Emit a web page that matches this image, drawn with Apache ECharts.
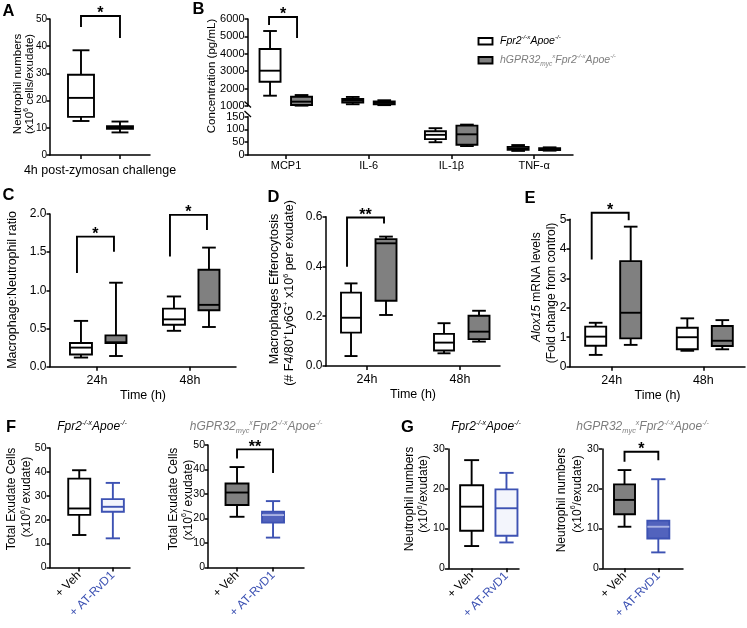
<!DOCTYPE html>
<html><head><meta charset="utf-8">
<script src="https://cdn.jsdelivr.net/npm/echarts@6/dist/echarts.min.js"></script>
<style>html,body{margin:0;padding:0;background:#fff}#c{width:747px;height:628px}</style>
</head><body><div id="c"></div>
<script>
const FONT = '"Liberation Sans", Arial, Helvetica, sans-serif';

// ---------------- data (box = [min, Q1, median, Q3, max]) ----------------
// Panel A
const aGroups = ['Fpr2-/-xApoe-/-', 'hGPR32myc xFpr2-/-xApoe-/-'];
const aBoxes = [[12.5, 14.0, 21.0, 29.5, 38.5], [8.3, 9.6, 10.1, 10.6, 12.3]];
const aSig = [[0, 1, 47.1, 51.1, 43.0]];       // [leftCat, rightCat, leftEnd, top, rightEnd]
const aSigLabels = ['*'];
// Panel B
const bCategories = ['MCP1', 'IL-6', 'IL-1β', 'TNF-α'];
const bWhite = [[1592, 2397, 3029, 4276, 5310], [1100, 1200, 1300, 1400, 1520], [50, 62, 79, 93, 105], [16, 20, 26, 32, 39]];
const bGrey = [[1020, 1060, 1250, 1535, 1630], [1050, 1100, 1180, 1260, 1330], [35, 40, 81, 115, 119], [17, 19, 23, 27, 30]];
const bSig = [[0, 0, 5655, 6115, 4908]];
const bSigLabels = ['*'];
// Panel C
const timeCategories = ['24h', '48h'];
const cWhite = [[0.12, 0.16, 0.25, 0.31, 0.60], [0.47, 0.55, 0.62, 0.76, 0.92]];
const cGrey = [[0.14, 0.31, 0.32, 0.41, 1.10], [0.52, 0.74, 0.81, 1.27, 1.56]];
const cSig = [[0, 0, 1.228, 1.704, 1.507], [1, 1, 1.442, 1.988, 1.79]];
const cSigLabels = ['*', '*'];
// Panel D
const dWhite = [[0.040, 0.134, 0.194, 0.295, 0.332], [0.051, 0.062, 0.094, 0.129, 0.172]];
const dGrey = [[0.205, 0.262, 0.493, 0.510, 0.520], [0.098, 0.108, 0.138, 0.202, 0.222]];
const dSig = [[0, 0, 0.399, 0.597, 0.573]];
const dSigLabels = ['**'];
// Panel E
const eWhite = [[0.40, 0.71, 1.02, 1.36, 1.49], [0.54, 0.59, 1.00, 1.32, 1.64]];
const eGrey = [[0.74, 0.96, 1.83, 3.58, 4.75], [0.59, 0.70, 0.88, 1.38, 1.58]];
const eSig = [[0, 0, 3.64, 5.22, 4.97]];
const eSigLabels = ['*'];
// Panel F
const treatments = ['+ Veh', '+ AT-RvD1'];
const fLeft = [[13.6, 22.0, 24.7, 37.2, 40.7], [12.2, 23.3, 25.4, 28.6, 35.4]];
const fRight = [[20.7, 25.5, 30.6, 34.3, 41.0], [12.2, 18.3, 21.4, 22.8, 27.1]];
const fSig = [[0, 1, 44.5, 48.2, 38.6]];
const fSigLabels = ['**'];
// Panel G
const gLeft = [[5.6, 9.45, 15.5, 20.9, 27.2], [6.5, 8.2, 15.1, 19.85, 24.0]];
const gRight = [[10.45, 13.6, 17.2, 21.1, 24.7], [4.0, 7.5, 10.45, 12.0, 22.4]];
const gSig = [[0, 1, 26.8, 29.3, 27.2]];
const gSigLabels = ['*'];

// ---------------- styles ----------------
const S_WHITE = {fill: '#ffffff', stroke: '#000000'};
const S_GREY = {fill: '#808080', stroke: '#000000'};
const S_BLUE_O = {fill: '#f3f5fc', stroke: '#3d52b3'};
const S_BLUE_F = {fill: '#5263bd', stroke: '#3d52b3', median: '#aab3e4'};
const LW = 1.9, AXW = 1.5;

function boxItem(off, w, st) {
  return function (params, api) {
    const x = api.value(0);
    const p = [1, 2, 3, 4, 5].map(function (i) { return api.coord([x, api.value(i)]); });
    const cx = p[0][0] + off;
    const yMin = p[0][1], yQ1 = p[1][1], yMed = p[2][1], yQ3 = p[3][1], yMax = p[4][1];
    const cap = w * 0.65;
    const ls = {stroke: st.stroke, lineWidth: LW, fill: 'none'};
    return {type: 'group', children: [
      {type: 'line', shape: {x1: cx, y1: yQ3, x2: cx, y2: yMax}, style: ls},
      {type: 'line', shape: {x1: cx, y1: yQ1, x2: cx, y2: yMin}, style: ls},
      {type: 'line', shape: {x1: cx - cap / 2, y1: yMax, x2: cx + cap / 2, y2: yMax}, style: ls},
      {type: 'line', shape: {x1: cx - cap / 2, y1: yMin, x2: cx + cap / 2, y2: yMin}, style: ls},
      {type: 'rect', shape: {x: cx - w / 2, y: yQ3, width: w, height: Math.max(yQ1 - yQ3, 0.5)},
        style: {fill: st.fill, stroke: st.stroke, lineWidth: LW}},
      {type: 'line', shape: {x1: cx - w / 2, y1: yMed, x2: cx + w / 2, y2: yMed},
        style: {stroke: st.median || st.stroke, lineWidth: LW, fill: 'none'}}
    ]};
  };
}
function sigItem(offL, offR, labels) {
  return function (params, api) {
    const pl = api.coord([api.value(0), api.value(2)]);
    const pt = api.coord([api.value(0), api.value(3)]);
    const pr = api.coord([api.value(1), api.value(4)]);
    const xl = pl[0] + offL, xr = pr[0] + offR, yt = pt[1];
    return {type: 'group', children: [
      {type: 'polyline', shape: {points: [[xl, pl[1]], [xl, yt], [xr, yt], [xr, pr[1]]]},
        style: {stroke: '#000', lineWidth: LW, fill: 'none'}},
      {type: 'text', style: {text: labels[params.dataIndex], x: (xl + xr) / 2, y: yt - 2, fill: '#000',
        font: 'bold 16px ' + FONT, textAlign: 'center', textVerticalAlign: 'middle', align: 'center', verticalAlign: 'middle'}}
    ]};
  };
}
function boxSeries(ai, data, off, w, st) {
  return {type: 'custom', xAxisIndex: ai, yAxisIndex: ai, data: data, renderItem: boxItem(off, w, st),
    encode: {x: 0, y: [1, 2, 3, 4, 5]}, silent: true, clip: false, z: 3};
}
function sigSeries(ai, data, offL, offR, labels) {
  return {type: 'custom', xAxisIndex: ai, yAxisIndex: ai, data: data, renderItem: sigItem(offL, offR, labels),
    encode: {x: 0, y: [2, 3, 4]}, silent: true, clip: false, z: 4};
}
function idx(arr, start) { return arr.map(function (b, i) { return [i + (start || 0)].concat(b); }); }

function grid(l, t, w, h) { return {left: l, top: t, width: w, height: h, containLabel: false, outerBoundsMode: 'none'}; }
function xAx(gi, min, max, cats, o) {
  o = o || {};
  const vals = cats.map(function (c, i) { return i; });
  return {
    type: 'value', gridIndex: gi, min: min, max: max, show: o.show !== false,
    axisLine: {show: true, onZero: false, lineStyle: {color: '#000', width: AXW}},
    axisTick: {show: true, customValues: vals, length: 4, inside: false, lineStyle: {color: '#000', width: AXW}},
    axisLabel: {show: !!o.labels, customValues: vals, interval: 0,
      formatter: o.fmt || function (v) { return cats[Math.round(v)]; },
      fontSize: o.fs || 12, fontFamily: FONT, color: '#000', margin: o.margin || 6, rotate: o.rotate || 0, rich: o.rich},
    splitLine: {show: false},
    name: o.name || '', nameLocation: 'middle', nameGap: o.nameGap || 20,
    nameTextStyle: {fontSize: o.nameFs || 12.5, fontFamily: FONT, color: '#000'}
  };
}
const plain = function (v) { return String(v); };
function yAx(gi, min, max, interval, fs, fmt, margin) {
  return {type: 'value', gridIndex: gi, min: min, max: max, interval: interval,
    axisLine: {show: true, onZero: false, lineStyle: {color: '#000', width: AXW}},
    axisTick: {show: true, length: 3.5, lineStyle: {color: '#000', width: AXW}},
    axisLabel: {fontSize: fs, fontFamily: FONT, color: '#000', margin: margin || 3.5, formatter: fmt || plain},
    splitLine: {show: false}};
}

const trtRich = {
  k: {color: '#000', fontSize: 12, fontFamily: FONT},
  b: {color: '#3d52b3', fontSize: 12, fontFamily: FONT}
};
const trtFmt = function (v) { const i = Math.round(v); return '{' + ['k', 'b'][i] + '|' + treatments[i] + '}'; };
const fx1 = function (v) { return v.toFixed(1); };

// ---------------- text helpers ----------------
function richStyles(size, color) {
  const c = color || '#000';
  return {
    n: {font: size + 'px ' + FONT, fill: c, lineHeight: size + 3},
    i: {font: 'italic ' + size + 'px ' + FONT, fill: c, lineHeight: size + 3},
    s: {font: (size * 0.58).toFixed(1) + 'px ' + FONT, fill: c, lineHeight: size * 0.5, verticalAlign: 'top'},
    si: {font: 'italic ' + (size * 0.58).toFixed(1) + 'px ' + FONT, fill: c, lineHeight: size * 0.5, verticalAlign: 'top'},
    bi: {font: 'italic ' + (size * 0.62).toFixed(1) + 'px ' + FONT, fill: c, lineHeight: size * 0.6, verticalAlign: 'bottom'}
  };
}
function txt(x, y, text, size, o) {
  o = o || {};
  return {type: 'text', x: x, y: y, rotation: o.rot || 0, silent: true, z: 10,
    style: {text: text, rich: richStyles(size, o.color), font: (o.bold ? 'bold ' : '') + size + 'px ' + FONT,
      fill: o.color || '#000', textAlign: o.align || 'center', align: o.align || 'center',
      textVerticalAlign: 'middle', verticalAlign: 'middle'}};
}
function vtxt(x, y, text, size, o) { o = o || {}; o.rot = Math.PI / 2; return txt(x, y, text, size, o); }

const titleA = '{i|Fpr2}{si|-/-x}{i|Apoe}{si|-/-}';
const titleB = '{i|hGPR32}{bi|myc}{si|x}{i|Fpr2}{si|-/-x}{i|Apoe}{si|-/-}';
const GREYTXT = '#7d7d7d';

const graphics = [
  // panel letters
  txt(2.5, 11, 'A', 16.5, {bold: true, align: 'left'}),
  txt(192.5, 9, 'B', 16.5, {bold: true, align: 'left'}),
  txt(2.5, 195, 'C', 16.5, {bold: true, align: 'left'}),
  txt(267.5, 197.5, 'D', 16.5, {bold: true, align: 'left'}),
  txt(524.5, 198.5, 'E', 16.5, {bold: true, align: 'left'}),
  txt(6, 427.5, 'F', 16.5, {bold: true, align: 'left'}),
  txt(401, 427, 'G', 16.5, {bold: true, align: 'left'}),
  // y titles
  vtxt(18, 84, '{n|Neutrophil numbers}', 11.5),
  vtxt(30, 84, '{n|(x10}{s|6}{n| cells/exudate)}', 11.5),
  vtxt(211.7, 76, '{n|Concentration (pg/mL)}', 11.5),
  vtxt(13, 290, '{n|Macrophage:Neutrophil ratio}', 12.5),
  vtxt(275, 289, '{n|Macrophages Efferocytosis}', 12.5),
  vtxt(290, 293, '{n|(# F4/80}{s|+}{n|Ly6G}{s|+}{n| x10}{s|6}{n| per exudate)}', 12.5),
  vtxt(536.7, 287, '{i|Alox15}{n| mRNA levels}', 12),
  vtxt(551.7, 293, '{n|(Fold change from control)}', 12),
  vtxt(12, 499, '{n|Total Exudate Cells}', 12),
  vtxt(27, 497, '{n|(x10}{s|6}{n|/ exudate)}', 12),
  vtxt(173.3, 499, '{n|Total Exudate Cells}', 12),
  vtxt(188.5, 500, '{n|(x10}{s|6}{n|/ exudate)}', 12),
  vtxt(410, 499, '{n|Neutrophil numbers}', 12),
  vtxt(424, 494, '{n|(x10}{s|6}{n|/exudate)}', 12),
  vtxt(561.7, 500, '{n|Neutrophil numbers}', 12),
  vtxt(577.3, 494, '{n|(x10}{s|6}{n|/exudate)}', 12),
  // subplot titles
  txt(92, 427, titleA, 12),
  txt(256, 427, titleB, 12, {color: GREYTXT}),
  txt(486, 427, titleA, 12),
  txt(642.5, 427, titleB, 12, {color: GREYTXT}),
  // legend (panel B)
  {type: 'rect', shape: {x: 478.5, y: 38, width: 14, height: 6.5}, style: {fill: '#fff', stroke: '#000', lineWidth: 1.9}, silent: true},
  {type: 'rect', shape: {x: 478.5, y: 57, width: 14, height: 6.5}, style: {fill: '#808080', stroke: '#000', lineWidth: 1.9}, silent: true},
  txt(500, 41.5, titleA, 10.5, {align: 'left'}),
  txt(500, 60.5, titleB, 10.5, {align: 'left', color: GREYTXT}),
  // axis break marks (panel B)
  {type: 'line', shape: {x1: 244.5, y1: 101.5, x2: 251, y2: 107.5}, style: {stroke: '#000', lineWidth: 1.3}, silent: true},
  {type: 'line', shape: {x1: 244.5, y1: 111, x2: 251, y2: 117}, style: {stroke: '#000', lineWidth: 1.3}, silent: true}
];

const option = {
  animation: false,
  backgroundColor: '#fff',
  textStyle: {fontFamily: FONT},
  grid: [
    grid(50, 19, 100, 136),        // 0 A
    grid(248, 19, 325, 87),        // 1 B upper
    grid(248, 116.7, 325, 38.3),   // 2 B lower
    grid(50, 214, 186, 152.7),     // 3 C
    grid(326, 216.7, 174, 149.3),  // 4 D
    grid(570, 219.3, 175, 147.4),  // 5 E
    grid(50, 448, 80, 119.5),      // 6 F left
    grid(208, 445, 96, 122.5),     // 7 F right
    grid(448.3, 449, 70.7, 119.3), // 8 G left
    grid(602.3, 449, 80.7, 119.3)  // 9 G right
  ],
  xAxis: [
    xAx(0, -0.795, 1.77, aGroups, {name: '4h post-zymosan challenge', nameGap: 9, nameFs: 12.5}),
    xAx(1, -0.46, 3.47, bCategories, {show: false}),
    xAx(2, -0.46, 3.47, bCategories, {labels: true, fs: 11, margin: 5}),
    xAx(3, -0.505, 1.495, timeCategories, {labels: true, fs: 12.5, margin: 7, name: 'Time (h)', nameGap: 22}),
    xAx(4, -0.441, 1.43, timeCategories, {labels: true, fs: 12.5, margin: 7, name: 'Time (h)', nameGap: 22}),
    xAx(5, -0.455, 1.455, timeCategories, {labels: true, fs: 12.5, margin: 7, name: 'Time (h)', nameGap: 22}),
    xAx(6, -0.87, 1.51, treatments, {labels: true, rotate: 45, margin: 6, fmt: trtFmt, rich: trtRich}),
    xAx(7, -0.806, 1.86, treatments, {labels: true, rotate: 45, margin: 6, fmt: trtFmt, rich: trtRich}),
    xAx(8, -0.67, 1.36, treatments, {labels: true, rotate: 45, margin: 6, fmt: trtFmt, rich: trtRich}),
    xAx(9, -0.657, 1.73, treatments, {labels: true, rotate: 45, margin: 6, fmt: trtFmt, rich: trtRich})
  ],
  yAxis: [
    yAx(0, 0, 50, 10, 10, null, 3),
    yAx(1, 1000, 6000, 1000, 11),
    yAx(2, 0, 150, 50, 11),
    yAx(3, 0, 2, 0.5, 12, fx1),
    yAx(4, 0, 0.6, 0.2, 12, fx1),
    yAx(5, 0, 5, 1, 12),
    yAx(6, 0, 50, 10, 10.5),
    yAx(7, 0, 50, 10, 10.5, null, 3),
    yAx(8, 0, 30, 10, 10.5),
    yAx(9, 0, 30, 10, 10.5)
  ],
  graphic: graphics,
  series: [
    // A
    boxSeries(0, [[0].concat(aBoxes[0])], 0, 26, S_WHITE),
    boxSeries(0, [[1].concat(aBoxes[1])], 0, 26, S_GREY),
    sigSeries(0, aSig, 0, 0, aSigLabels),
    // B
    boxSeries(1, idx(bWhite.slice(0, 2)), -16, 21, S_WHITE),
    boxSeries(1, idx(bGrey.slice(0, 2)), 15.5, 21, S_GREY),
    boxSeries(2, idx(bWhite.slice(2), 2), -16, 21, S_WHITE),
    boxSeries(2, idx(bGrey.slice(2), 2), 15.5, 21, S_GREY),
    sigSeries(1, bSig, -17, 11, bSigLabels),
    // C
    boxSeries(3, idx(cWhite), -16, 22, S_WHITE),
    boxSeries(3, idx(cGrey), 19, 21, S_GREY),
    sigSeries(3, cSig, -20, 17, cSigLabels),
    // D
    boxSeries(4, idx(dWhite), -16, 20, S_WHITE),
    boxSeries(4, idx(dGrey), 19, 21, S_GREY),
    sigSeries(4, dSig, -20, 17, dSigLabels),
    // E
    boxSeries(5, idx(eWhite), -16, 21, S_WHITE),
    boxSeries(5, idx(eGrey), 19, 21, S_GREY),
    sigSeries(5, eSig, -20, 17, eSigLabels),
    // F
    boxSeries(6, [[0].concat(fLeft[0])], 0, 22, S_WHITE),
    boxSeries(6, [[1].concat(fLeft[1])], 0, 22, S_BLUE_O),
    boxSeries(7, [[0].concat(fRight[0])], 0, 23, S_GREY),
    boxSeries(7, [[1].concat(fRight[1])], 0, 22, S_BLUE_F),
    sigSeries(7, fSig, 0, 0, fSigLabels),
    // G
    boxSeries(8, [[0].concat(gLeft[0])], 0, 23, S_WHITE),
    boxSeries(8, [[1].concat(gLeft[1])], 0, 22, S_BLUE_O),
    boxSeries(9, [[0].concat(gRight[0])], 0, 21, S_GREY),
    boxSeries(9, [[1].concat(gRight[1])], 0, 22, S_BLUE_F),
    sigSeries(9, gSig, 0, 0, gSigLabels)
  ]
};

const chart = echarts.init(document.getElementById('c'), null, {renderer: 'canvas'});
chart.setOption(option);
</script>
</body></html>
